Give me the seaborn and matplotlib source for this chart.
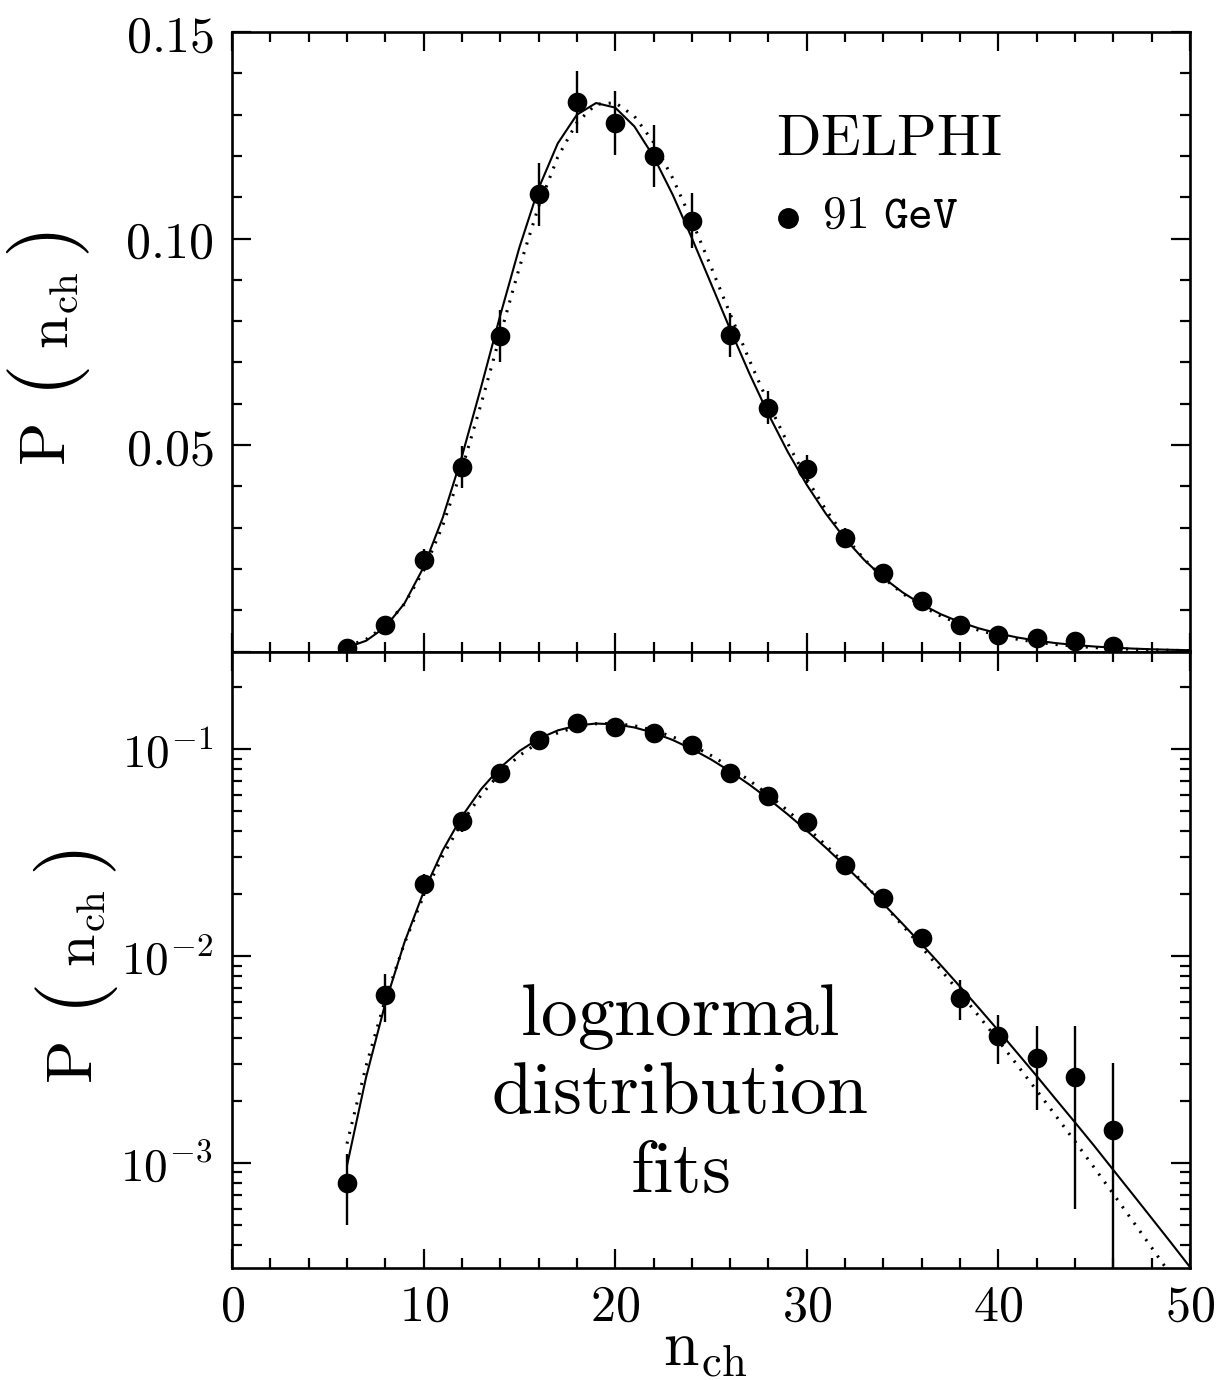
import matplotlib
matplotlib.use("Agg")
import matplotlib.pyplot as plt
import numpy as np
import pandas as pd
import seaborn as sns
from matplotlib.ticker import FixedLocator, FuncFormatter, NullFormatter

# ---------------- data ----------------
n_data = [6, 8, 10, 12, 14, 16, 18, 20, 22, 24, 26, 28, 30, 32, 34, 36, 38, 40, 42, 44, 46]
p_data = [0.0008, 0.0065, 0.0222, 0.0447, 0.0763, 0.1107, 0.1331, 0.1279, 0.1200, 0.1043,
          0.0766, 0.0590, 0.0442, 0.0274, 0.0190, 0.0122, 0.0063, 0.0041, 0.0032, 0.0026, 0.00145]
p_err = [0.0003, 0.0017, 0.0027, 0.0050, 0.0063, 0.0077, 0.0075, 0.0078, 0.0076, 0.0066,
         0.0054, 0.0040, 0.0034, 0.0024, 0.0017, 0.0013, 0.0014, 0.0011, 0.0014, 0.0020, 0.0016]

n_fit = list(range(6, 51))
fit_solid = [0.00097, 0.00260, 0.00590, 0.01164, 0.02040, 0.03241, 0.04723, 0.06400, 0.08137,
             0.09784, 0.11210, 0.12302, 0.12998, 0.13280, 0.13169, 0.12715, 0.11986, 0.11061,
             0.10012, 0.08909, 0.07801, 0.06735, 0.05744, 0.04839, 0.04035, 0.03332, 0.02727,
             0.02215, 0.01786, 0.01431, 0.01140, 0.00902, 0.00711, 0.00558, 0.00436, 0.00339,
             0.00263, 0.00203, 0.00157, 0.00121, 0.000925, 0.000708, 0.000541, 0.000413, 0.000314]
fit_dotted = [0.00124, 0.00295, 0.00616, 0.01152, 0.01956, 0.03051, 0.04419, 0.05991, 0.07661,
              0.09299, 0.10773, 0.11970, 0.12808, 0.13248, 0.13288, 0.12962, 0.12329, 0.11460,
              0.10431, 0.09315, 0.08174, 0.07058, 0.06006, 0.05042, 0.04181, 0.03427, 0.02781,
              0.02234, 0.01779, 0.01405, 0.01101, 0.00857, 0.00663, 0.00510, 0.00390, 0.00296,
              0.00224, 0.00169, 0.00127, 0.00095, 0.000708, 0.000526, 0.000390, 0.000288, 0.000212]

x_major = [0, 10, 20, 30, 40, 50]
top_y_major = [0.0, 0.05, 0.10, 0.15]
top_y_labels = {0.05: "0.05", 0.10: "0.10", 0.15: "0.15"}
log_major = [1e-3, 1e-2, 1e-1]
log_labels = {1e-3: "10^{-3}", 1e-2: "10^{-2}", 1e-1: "10^{-1}"}

data = pd.DataFrame({"n": n_data, "p": p_data, "err": p_err})
fits = pd.DataFrame({"n": n_fit, "solid": fit_solid, "dotted": fit_dotted})

# ---------------- style ----------------
sns.set_theme(style="ticks")
plt.rcParams["font.family"] = ["DejaVu Serif"]
plt.rcParams["mathtext.fontset"] = "cm"
plt.rcParams["axes.linewidth"] = 1.9

W, H = 1227, 1380
fig = plt.figure(figsize=(W / 100, H / 100), dpi=100)
L, R = 232 / W, 1190 / W
ax1 = fig.add_axes([L, 1 - 651.5 / H, R - L, (651.5 - 32) / H])
ax2 = fig.add_axes([L, 1 - 1268 / H, R - L, (1268 - 651.5) / H])
ax2.set_yscale("log")

for ax in (ax1, ax2):
    ax.errorbar(data["n"], data["p"], yerr=data["err"], fmt="none", ecolor="black",
                elinewidth=1.7, capsize=0, zorder=3)
    sns.scatterplot(data=data, x="n", y="p", ax=ax, color="black", s=200,
                    edgecolor="black", linewidth=0, zorder=4, legend=False)
    sns.lineplot(data=fits, x="n", y="solid", ax=ax, color="black", lw=1.5, zorder=2)
    sns.lineplot(data=fits, x="n", y="dotted", ax=ax, color="black", lw=2.2,
                 linestyle=(0, (0.7, 2.6)), zorder=2)
    ax.set_xlim(0, 50)
    ax.xaxis.set_major_locator(FixedLocator(x_major))
    ax.xaxis.set_minor_locator(FixedLocator([v for v in range(0, 51, 2) if v % 10]))
    ax.tick_params(which="both", direction="in", top=True, right=True, width=1.6,
                   colors="black", labelsize=36)
    ax.tick_params(which="major", length=14)
    ax.tick_params(which="minor", length=7)
    ax.set_xlabel("")
    ax.set_ylabel("")
    for s in ax.spines.values():
        s.set_linewidth(1.9)
        s.set_color("black")

# top panel (linear)
ax1.set_ylim(0, 0.15)
ax1.yaxis.set_major_locator(FixedLocator(top_y_major))
ax1.yaxis.set_minor_locator(FixedLocator([i / 100 for i in range(0, 16) if i % 5]))
ax1.yaxis.set_major_formatter(FuncFormatter(
    lambda v, p: "$%s$" % top_y_labels[round(v, 2)] if round(v, 2) in top_y_labels else ""))
ax1.xaxis.set_major_formatter(NullFormatter())
ax1.tick_params(axis="y", pad=13)

# bottom panel (log)
ax2.set_ylim(3.11e-4, 0.296)
ax2.yaxis.set_major_locator(FixedLocator(log_major))
minors = [m * 10.0 ** e for e in (-4, -3, -2, -1) for m in range(2, 10)]
ax2.yaxis.set_minor_locator(FixedLocator(minors))
ax2.yaxis.set_minor_formatter(NullFormatter())
ax2.yaxis.set_major_formatter(FuncFormatter(
    lambda v, p: "$%s$" % log_labels.get(min(log_labels, key=lambda k: abs(np.log10(k) - np.log10(v))), "")))
ax2.xaxis.set_major_formatter(FuncFormatter(lambda v, p: "$%d$" % round(v)))
ax2.tick_params(axis="y", pad=14, labelsize=34)
ax2.tick_params(axis="x", pad=10)

# annotations
ax1.text(0.686, 0.8015, r"$\mathrm{DELPHI}$", transform=ax1.transAxes, ha="center",
         va="baseline", fontsize=42, color="black")
ax1.plot([0.580], [0.700], "o", color="black", ms=14, transform=ax1.transAxes)
ax1.text(0.616, 0.6836, r"$\mathtt{91\ GeV}$", transform=ax1.transAxes, ha="left",
         va="baseline", fontsize=34, color="black")

for txt, yb in ((r"$\mathrm{lognormal}$", 0.378), (r"$\mathrm{distribution}$", 0.2514),
                (r"$\mathrm{fits}$", 0.1233)):
    ax2.text(0.4676, yb, txt, transform=ax2.transAxes, ha="center", va="baseline",
             fontsize=53, color="black")

# y labels built from pieces: P ( n_ch )
def ylabel(xc, yc):
    parts = [(r"$\mathrm{P}$", 46, 0, 103), (r"$($", 60, 2, 40),
             (r"$\mathrm{n_{ch}}$", 42, 5, -32), (r"$)$", 60, 2, -97)]
    for t, fs, dx, dy in parts:
        fig.text((xc + dx) / W, 1 - (yc + dy) / H, t, rotation=90, ha="center",
                 va="center", fontsize=fs, color="black")

ylabel(47, 342)
ylabel(74, 960)

fig.text(705 / W, 1 - 1348 / H, r"$\mathrm{n_{ch}}$", ha="center", va="center",
         fontsize=46, color="black")

fig.savefig("out.png", dpi=100, facecolor="white")
